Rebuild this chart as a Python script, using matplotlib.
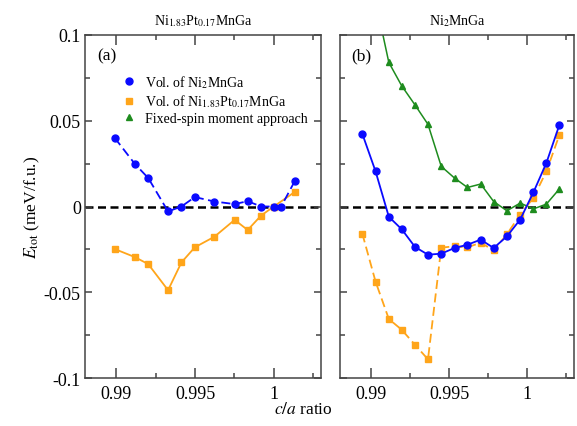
import matplotlib
matplotlib.use("Agg")
import matplotlib.pyplot as plt
from matplotlib.lines import Line2D

plt.rcParams["font.family"] = ["Liberation Serif", "DejaVu Serif"]
plt.rcParams["mathtext.fontset"] = "stix"

# panel (a): Ni1.83Pt0.17MnGa
xa_blue = [0.98989, 0.99117, 0.99202, 0.99328, 0.99413, 0.99498, 0.99623,
           0.99751, 0.99834, 0.99919, 1.0, 1.00047, 1.00132]
ya_blue = [0.0400, 0.0248, 0.0166, -0.0029, 0.0, 0.0055, 0.0029,
           0.0014, 0.0031, 0.0, 0.0, 0.0, 0.0146]
xa_orange = [0.98989, 0.99117, 0.99202, 0.99328, 0.99413, 0.99498, 0.99623,
             0.99751, 0.99834, 0.99919, 1.0, 1.00132]
ya_orange = [-0.0248, -0.0295, -0.0336, -0.0488, -0.0326, -0.0238, -0.0176,
             -0.0078, -0.0137, -0.0053, 0.0, 0.0084]

# panel (b): Ni2MnGa
xb = [0.98943, 0.99028, 0.99113, 0.99196, 0.99281, 0.99364, 0.99449, 0.99534,
      0.99617, 0.99702, 0.99785, 0.9987, 0.99955, 1.0004, 1.00123, 1.00206]
yb_blue = [0.0424, 0.0205, -0.0060, -0.0133, -0.0236, -0.0281, -0.0275, -0.0242,
           -0.0223, -0.0193, -0.0242, -0.0174, -0.0076, 0.0083, 0.0254, 0.0475]
yb_orange = [-0.0158, -0.0438, -0.0656, -0.0719, -0.0807, -0.0891, -0.0240, -0.0232,
             -0.0238, -0.0211, -0.0256, -0.0162, -0.0047, 0.0051, 0.0205, 0.0416]
xb_green = [0.99028, 0.99113, 0.99196, 0.99281, 0.99364, 0.99449, 0.99534, 0.99617,
            0.99702, 0.99785, 0.9987, 0.99955, 1.0004, 1.00123, 1.00206]
yb_green = [0.120, 0.0840, 0.0703, 0.0592, 0.0479, 0.0234, 0.0166, 0.0111,
            0.0131, 0.0029, -0.0025, 0.0020, -0.0014, 0.0014, 0.0102]

legend_labels = ["Vol. of Ni$_2$MnGa",
                 "Vol. of Ni$_{1.83}$Pt$_{0.17}$MnGa",
                 "Fixed-spin moment approach"]

BLUE = "#0a0aff"
ORANGE = "#ffa51a"
GREEN = "#1e8c1e"
SPINE = "#444444"

fig = plt.figure(figsize=(5.77, 4.27), dpi=100)
ax1 = fig.add_axes([85 / 577, 1 - 379 / 427, 236 / 577, 343 / 427])
ax2 = fig.add_axes([340 / 577, 1 - 379 / 427, 234 / 577, 343 / 427])

for ax in (ax1, ax2):
    ax.axhline(0, color="black", lw=1.8, ls=(0, (3.2, 1.8)), zorder=1)
    ax.set_xlim(0.988, 1.003)
    ax.set_ylim(-0.1, 0.1)
    ax.set_xticks([0.99, 0.995, 1.0])
    ax.set_xticks([0.9925, 0.9975, 1.0025], minor=True)
    ax.set_yticks([-0.1, -0.05, 0, 0.05, 0.1])
    ax.set_yticks([-0.075, -0.025, 0.025, 0.075], minor=True)
    ax.set_xticklabels(["0.99", "0.995", "1"])
    ax.tick_params(which="both", direction="in", top=True, right=True,
                   color=SPINE, width=1.1, labelsize=13, pad=5)
    ax.tick_params(axis="x", which="major", length=7)
    ax.tick_params(axis="x", which="minor", length=3.5)
    ax.tick_params(axis="y", which="major", length=5, pad=3)
    ax.tick_params(axis="y", which="minor", length=3.5)
    for s in ax.spines.values():
        s.set_color(SPINE)
        s.set_linewidth(1.1)

ax1.set_yticklabels(["-0.1", "-0.05", "0", "0.05", "0.1"])
ax2.set_yticklabels([])

ax1.plot(xa_blue, ya_blue, color=BLUE, ls=(0, (5, 2.5)), lw=1.3,
         marker="o", ms=5, zorder=3)
ax1.plot(xa_orange, ya_orange, color=ORANGE, ls="-", lw=1.3,
         marker="s", ms=5, zorder=2)

ax2.plot(xb_green, yb_green, color=GREEN, ls="-", lw=1.1,
         marker="^", ms=5, zorder=2)
ax2.plot(xb, yb_orange, color=ORANGE, ls=(0, (5, 2.5)), lw=1.3,
         marker="s", ms=5, zorder=3)
ax2.plot(xb, yb_blue, color=BLUE, ls="-", lw=1.3,
         marker="o", ms=5, zorder=4)

ax1.text(0.05, 0.94, "(a)", transform=ax1.transAxes, fontsize=12.5, va="center")
ax2.text(0.05, 0.94, "(b)", transform=ax2.transAxes, fontsize=12.5, va="center")

ax1.set_title("Ni$_{1.83}$Pt$_{0.17}$MnGa", fontsize=10, pad=8)
ax2.set_title("Ni$_2$MnGa", fontsize=10, pad=8)

handles = [Line2D([], [], color=BLUE, marker="o", ls="none", ms=5),
           Line2D([], [], color=ORANGE, marker="s", ls="none", ms=5),
           Line2D([], [], color=GREEN, marker="^", ls="none", ms=5)]
ax1.legend(handles, legend_labels, loc="upper left", bbox_to_anchor=(0.135, 0.905),
           frameon=False, fontsize=10, handlelength=1.0, handletextpad=0.6,
           labelspacing=0.18, borderaxespad=0)

ax1.set_ylabel("$E_{\\rm tot}$ (meV/f.u.)", fontsize=12.5, labelpad=1)
fig.text(303 / 577, 1 - 410 / 427, "$c/a$ ratio", fontsize=12.5,
         ha="center", va="center")

fig.savefig("out.png", dpi=100)
